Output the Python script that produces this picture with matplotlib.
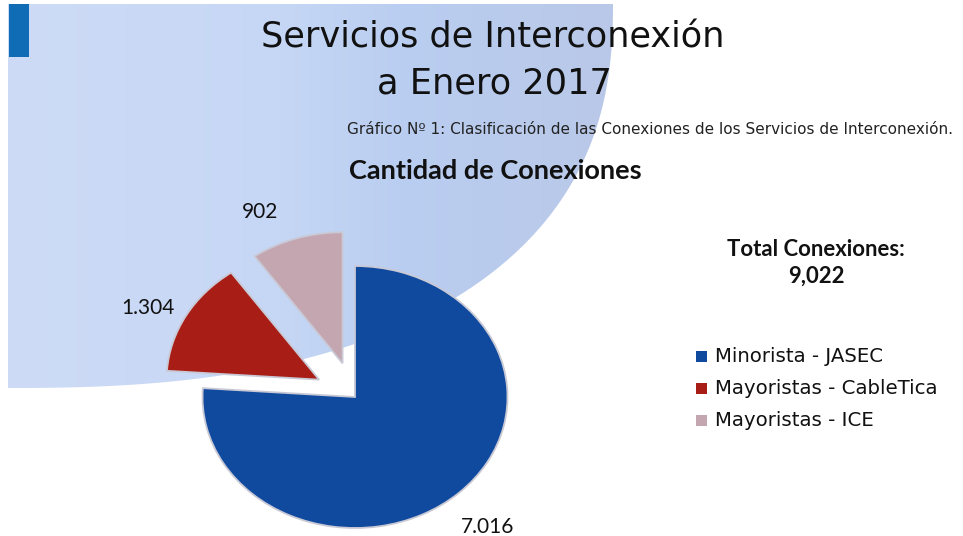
import matplotlib
matplotlib.use("Agg")
import matplotlib.pyplot as plt
from matplotlib.patches import Rectangle, Polygon
from matplotlib.colors import LinearSegmentedColormap
import numpy as np

categories = ["Minorista - JASEC", "Mayoristas - CableTica", "Mayoristas - ICE"]
values = [7016, 1304, 902]
value_labels = ["7.016", "1.304", "902"]
colors = ["#0f4a9f", "#a81e16", "#c4a6b0"]
explode = [0.0, 0.27, 0.27]

W, H = 963, 536
plt.rcParams["font.family"] = ["DejaVu Sans"]

fig = plt.figure(figsize=(W / 100, H / 100), dpi=100)
bg = fig.add_axes([0, 0, 1, 1])
bg.set_xlim(0, W)
bg.set_ylim(H, 0)
bg.axis("off")

# slide background, a rounded blob coming out of the top left corner
t = np.linspace(0, np.pi / 2, 200)
n = 2.45
bx = 8 + 605 * np.cos(t) ** (2 / n)
by = 388 * np.sin(t) ** (2 / n)
blob = Polygon(np.r_[np.c_[bx, by], [[8, 388], [8, 0]]], closed=True, fc="none", ec="none")
bg.add_patch(blob)
cm = LinearSegmentedColormap.from_list("bg", [(0, "#cddbf6"), (0.45, "#c6d7f5"), (0.65, "#bacef1"), (1, "#b9c8e8")])
im = bg.imshow(np.linspace(0, 1, 256).reshape(1, -1), extent=(8, 613, 390, 4), cmap=cm, aspect="auto", zorder=0)
im.set_clip_path(blob)
bg.set_xlim(0, W)
bg.set_ylim(H, 0)
bg.add_patch(Rectangle((9, 4), 20, 53, color="#0f6cb5", lw=0, zorder=2))

bg.text(493, 37, "Servicios de Interconexión", ha="center", va="center", fontsize=25.3, color="#111111")
bg.text(494, 83, "a Enero 2017", ha="center", va="center", fontsize=25.3, color="#111111")
bg.text(650, 129, "Gráfico Nº 1: Clasificación de las Conexiones de los Servicios de Interconexión.",
        ha="center", va="center", fontsize=11, color="#222222")
bg.text(495, 171, "Cantidad de Conexiones", ha="center", va="center", fontsize=19.5,
        family="Lato", fontweight="bold", color="#111111")
bg.text(816, 250, "Total Conexiones:", ha="center", va="center", fontsize=15.9,
        family="Lato", fontweight="bold", color="#111111")
bg.text(816, 276, "9,022", ha="center", va="center", fontsize=15.9,
        family="Lato", fontweight="bold", color="#111111")

# pie is squashed in the slide, so the axes are not square
cx, cy, rx, ry = 355, 397, 152.5, 131
m = 1.4
ax = fig.add_axes([(cx - rx * m) / W, 1 - (cy + ry * m) / H, 2 * m * rx / W, 2 * m * ry / H])
ax.pie(values, colors=colors, explode=explode, startangle=90, counterclock=False,
       radius=1, center=(0, 0), wedgeprops={"linewidth": 1.3, "edgecolor": "#c9c9d6"})
ax.set_xlim(-m, m)
ax.set_ylim(-m, m)
ax.set_aspect("auto")
ax.patch.set_alpha(0)

bg.text(488, 527, value_labels[0], ha="center", va="center", fontsize=15, family="Lato", color="#111111")
bg.text(148, 308, value_labels[1], ha="center", va="center", fontsize=15, family="Lato", color="#111111")
bg.text(260, 212, value_labels[2], ha="center", va="center", fontsize=15, family="Lato", color="#111111")

for lab, col, y in zip(categories, colors, [357, 389, 421]):
    bg.add_patch(Rectangle((696, y - 6), 11, 11, color=col, lw=0))
    bg.text(715, y, lab, ha="left", va="center", fontsize=14.2, color="#111111")

fig.savefig("out.png", dpi=100)
